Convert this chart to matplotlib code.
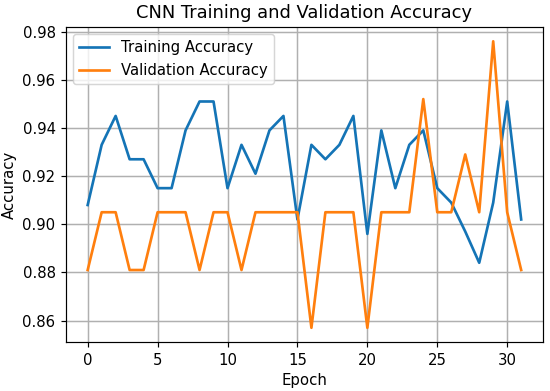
import matplotlib
matplotlib.use('Agg')
import matplotlib.pyplot as plt

epochs = list(range(32))
train_acc = [0.908, 0.933, 0.945, 0.927, 0.927, 0.915, 0.915, 0.939, 0.951, 0.951,
             0.915, 0.933, 0.921, 0.939, 0.945, 0.902, 0.933, 0.927, 0.933, 0.945,
             0.896, 0.939, 0.915, 0.933, 0.939, 0.915, 0.909, 0.897, 0.884, 0.909,
             0.951, 0.902]
val_acc = [0.881, 0.905, 0.905, 0.881, 0.881, 0.905, 0.905, 0.905, 0.881, 0.905,
           0.905, 0.881, 0.905, 0.905, 0.905, 0.905, 0.857, 0.905, 0.905, 0.905,
           0.857, 0.905, 0.905, 0.905, 0.952, 0.905, 0.905, 0.929, 0.905, 0.976,
           0.905, 0.881]

dpi = 107
fig, ax = plt.subplots(figsize=(550 / dpi, 391 / dpi), dpi=dpi)
ax.plot(epochs, train_acc, label='Training Accuracy', lw=1.8, color='#1474b6')
ax.plot(epochs, val_acc, label='Validation Accuracy', lw=1.8, color='#ff7f0e')
ax.set_title('CNN Training and Validation Accuracy')
ax.set_xlabel('Epoch')
ax.set_ylabel('Accuracy')
ax.grid(True, lw=1)
ax.legend(loc='upper left')
plt.subplots_adjust(left=0.12, right=0.987, top=0.931, bottom=0.125)
plt.savefig('out.png', dpi=dpi)
